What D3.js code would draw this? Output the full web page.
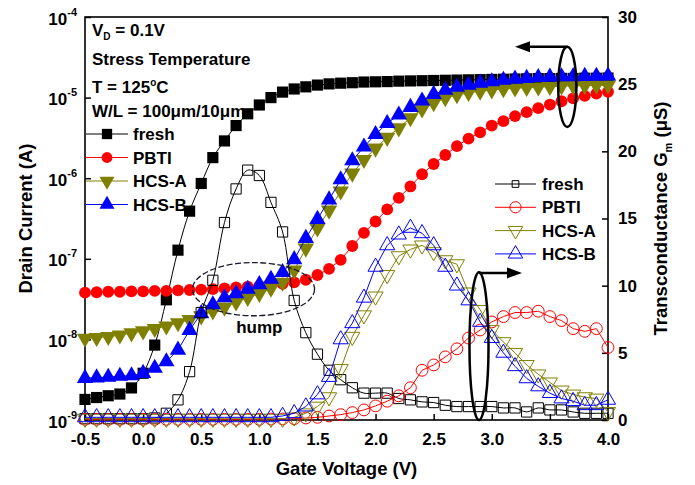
<!DOCTYPE html>
<html><head><meta charset="utf-8">
<script src="https://cdn.jsdelivr.net/npm/d3@7"></script>
<style>
body{margin:0;background:#fff}
svg text{font-family:"Liberation Sans",Arial,sans-serif;font-weight:bold;fill:#000}
</style>
</head><body>
<svg id="chart" width="695" height="485"></svg>
<script>
// ---------- data ----------
const gateVoltage = [-0.5,-0.4,-0.3,-0.2,-0.1,0.0,0.1,0.2,0.3,0.4,0.5,0.6,0.7,0.8,0.9,1.0,1.1,1.2,1.3,1.4,1.5,1.6,1.7,1.8,1.9,2.0,2.1,2.2,2.3,2.4,2.5,2.6,2.7,2.8,2.9,3.0,3.1,3.2,3.3,3.4,3.5,3.6,3.7,3.8,3.9,4.0];

// drain current (A)
const idFresh = [1.8e-9,1.9e-9,2.0e-9,2.1e-9,2.5e-9,3.8e-9,8.5e-9,3.1e-8,1.28e-7,3.9e-7,8.6e-7,1.8e-6,2.9e-6,4.5e-6,6.3e-6,8.1e-6,1.0e-5,1.17e-5,1.28e-5,1.36e-5,1.43e-5,1.48e-5,1.51e-5,1.53e-5,1.56e-5,1.57e-5,1.58e-5,1.6e-5,1.61e-5,1.62e-5,1.63e-5,1.64e-5,1.65e-5,1.66e-5,1.67e-5,1.68e-5,1.69e-5,1.70e-5,1.71e-5,1.72e-5,1.72e-5,1.73e-5,1.73e-5,1.74e-5,1.74e-5,1.75e-5];
const idPBTI = [3.8e-8,3.85e-8,3.9e-8,3.9e-8,3.95e-8,3.95e-8,4.0e-8,4.0e-8,4.05e-8,4.1e-8,4.15e-8,4.2e-8,4.3e-8,4.4e-8,4.5e-8,4.6e-8,4.75e-8,4.9e-8,5.1e-8,5.5e-8,6.3e-8,7.5e-8,9.7e-8,1.44e-7,2.1e-7,2.9e-7,4.1e-7,5.7e-7,7.9e-7,1.12e-6,1.5e-6,1.94e-6,2.5e-6,3.1e-6,3.7e-6,4.5e-6,5.1e-6,5.9e-6,6.6e-6,7.4e-6,8.2e-6,9.0e-6,9.8e-6,1.05e-5,1.12e-5,1.18e-5];
const idHCSA = [1.03e-8,1.05e-8,1.08e-8,1.13e-8,1.2e-8,1.27e-8,1.36e-8,1.46e-8,1.6e-8,1.75e-8,1.95e-8,2.25e-8,2.5e-8,2.9e-8,3.3e-8,3.7e-8,4.3e-8,5.1e-8,7.2e-8,1.35e-7,2.4e-7,4.0e-7,6.9e-7,1.15e-6,1.7e-6,2.35e-6,3.2e-6,4.2e-6,5.6e-6,7.2e-6,8.6e-6,9.9e-6,1.08e-5,1.15e-5,1.2e-5,1.24e-5,1.28e-5,1.31e-5,1.33e-5,1.35e-5,1.37e-5,1.39e-5,1.4e-5,1.41e-5,1.42e-5,1.43e-5];
const idHCSB = [3.3e-9,3.35e-9,3.4e-9,3.5e-9,3.55e-9,3.8e-9,4.4e-9,5.3e-9,7.4e-9,1.3e-8,2.1e-8,2.7e-8,3.3e-8,3.7e-8,4.2e-8,4.8e-8,5.6e-8,6.8e-8,9.8e-8,1.8e-7,3.1e-7,5.4e-7,9.6e-7,1.65e-6,2.45e-6,3.5e-6,4.8e-6,6.1e-6,7.6e-6,9.1e-6,1.1e-5,1.24e-5,1.35e-5,1.43e-5,1.52e-5,1.58e-5,1.65e-5,1.7e-5,1.74e-5,1.78e-5,1.8e-5,1.82e-5,1.83e-5,1.84e-5,1.85e-5,1.86e-5];

// transconductance (uS)
const gmFresh = [0.1,0.1,0.1,0.1,0.1,0.1,0.15,0.5,1.5,3.6,8.0,10.4,14.7,17.2,18.6,18.2,16.2,14.0,8.9,6.5,4.9,3.7,3.0,2.4,2.0,2.0,2.0,1.6,1.5,1.35,1.3,1.1,1.0,1.0,1.0,1.0,0.9,0.9,0.6,0.9,0.75,0.75,0.6,0.5,0.5,0.5];
const gmPBTI = [0.05,0.05,0.05,0.05,0.05,0.05,0.05,0.05,0.05,0.05,0.05,0.05,0.05,0.05,0.05,0.05,0.07,0.08,0.1,0.15,0.2,0.3,0.4,0.55,0.75,1.05,1.4,1.8,2.4,3.7,4.1,4.7,5.3,6.1,6.7,7.3,7.7,8.0,8.0,8.1,7.7,7.4,6.8,6.6,6.8,5.4];
const gmHCSA = [0.1,0.1,0.1,0.1,0.1,0.1,0.1,0.1,0.1,0.1,0.1,0.1,0.1,0.1,0.1,0.1,0.1,0.1,0.2,0.5,1.0,1.7,3.8,6.2,7.8,9.2,10.8,12.2,12.7,13.0,12.5,11.9,11.6,9.5,8.2,6.7,5.8,5.0,4.1,3.4,2.8,2.2,1.9,1.7,1.6,0.6];
const gmHCSB = [0.2,0.2,0.2,0.2,0.2,0.2,0.2,0.2,0.2,0.2,0.2,0.2,0.2,0.2,0.2,0.2,0.2,0.3,0.5,1.0,1.9,3.2,6.0,7.2,9.1,11.4,13.0,13.8,14.3,13.9,13.0,11.4,10.0,8.9,7.3,6.1,5.0,4.0,3.1,2.5,2.0,1.6,1.4,1.1,1.1,1.5];

const seriesNames = ["fresh","PBTI","HCS-A","HCS-B"];
const seriesColors = ["#000000","#ff0000","#808000","#0000ff"];
const xTickValues = [-0.5,0,0.5,1,1.5,2,2.5,3,3.5,4];
const xTickLabels = ["-0.5","0.0","0.5","1.0","1.5","2.0","2.5","3.0","3.5","4.0"];
const idTickExponents = [-9,-8,-7,-6,-5,-4];
const gmTickValues = [0,5,10,15,20,25,30];

// ---------- layout ----------
const W = 695, H = 485;
const m = {l:85, t:17, r:87, b:65};
const pw = W - m.l - m.r, ph = H - m.t - m.b;
const svg = d3.select("#chart");
const x = d3.scaleLinear().domain([-0.5,4.0]).range([m.l, m.l+pw]);
const yL = d3.scaleLog().domain([1e-9,1e-4]).range([m.t+ph, m.t]);
const yR = d3.scaleLinear().domain([0,30]).range([m.t+ph, m.t]);

// axes
const gx = svg.append("g").attr("transform",`translate(0,${m.t+ph})`)
  .call(d3.axisBottom(x).tickValues(xTickValues).tickSizeInner(-6).tickSizeOuter(0).tickPadding(13)
    .tickFormat((d,i)=>xTickLabels[i]));
const gl = svg.append("g").attr("transform",`translate(${m.l},0)`)
  .call(d3.axisLeft(yL).tickValues(idTickExponents.map(e=>Math.pow(10,e))).tickSizeInner(-6).tickSizeOuter(0).tickPadding(8)
    .tickFormat(()=>""));
const gr = svg.append("g").attr("transform",`translate(${m.l+pw},0)`)
  .call(d3.axisRight(yR).tickValues(gmTickValues).tickSizeInner(-6).tickSizeOuter(0).tickPadding(10));
[gx,gl,gr].forEach(g=>{
  g.select(".domain").remove();
  g.selectAll(".tick line").attr("stroke","#000").attr("stroke-width",1.5);
  g.selectAll("text").attr("font-size",17).attr("font-family",null);
});
gl.selectAll(".tick text").each(function(d,i){
  const t = d3.select(this).attr("dy","0.42em");
  t.append("tspan").text("10");
  t.append("tspan").attr("font-size",11).attr("dy",-9).text(String(idTickExponents[i]));
});

// frame
svg.append("rect").attr("x",m.l).attr("y",m.t).attr("width",pw).attr("height",ph)
  .attr("fill","none").attr("stroke","#000").attr("stroke-width",1.6);

// axis titles
svg.append("text").attr("transform",`translate(32,${m.t+ph/2}) rotate(-90)`)
  .attr("text-anchor","middle").attr("font-size",18.5).text("Drain Current (A)");
const rt = svg.append("text").attr("transform",`translate(667,${m.t+ph/2}) rotate(-90)`)
  .attr("text-anchor","middle").attr("font-size",18.5);
rt.append("tspan").text("Transconductance G");
rt.append("tspan").attr("font-size",11).attr("dy",5).text("m");
rt.append("tspan").attr("dy",-5).text(" (\u03bcS)");
svg.append("text").attr("x",m.l+pw/2).attr("y",475).attr("text-anchor","middle")
  .attr("font-size",18.5).text("Gate Voltage (V)");

// ---------- series ----------
const triUp = d3.symbolTriangle;
const filledSym = [d3.symbolSquare, d3.symbolCircle, triUp, triUp];
const filledSize = [125, 110, 115, 115];
const filledRot = [0,0,180,0];
const openSym = [d3.symbolSquare, d3.symbolCircle, triUp, triUp];
const openSize = [105, 110, 100, 100];
const idSeries = [idFresh, idPBTI, idHCSA, idHCSB];
const gmSeries = [gmFresh, gmPBTI, gmHCSA, gmHCSB];

const plot = svg.append("g");
idSeries.forEach((vals,k)=>{
  const pts = gateVoltage.map((v,i)=>({v, y: vals[i]}));
  const line = d3.line().x(d=>x(d.v)).y(d=>yL(d.y))
    .curve(k===0 ? d3.curveCatmullRom.alpha(0.5) : d3.curveLinear);
  plot.append("path").attr("d",line(pts)).attr("fill","none")
    .attr("stroke",seriesColors[k]).attr("stroke-width",1);
  plot.append("g").selectAll("path").data(pts).join("path")
    .attr("transform",d=>`translate(${x(d.v)},${yL(d.y)}) rotate(${filledRot[k]})`)
    .attr("d",d3.symbol().type(filledSym[k]).size(filledSize[k]))
    .attr("fill",seriesColors[k]);
});
gmSeries.forEach((vals,k)=>{
  const pts = gateVoltage.map((v,i)=>({v, y: vals[i]}));
  const line = d3.line().x(d=>x(d.v)).y(d=>yR(d.y))
    .curve(k===0 ? d3.curveCatmullRom.alpha(0.5) : d3.curveLinear);
  plot.append("path").attr("d",line(pts)).attr("fill","none")
    .attr("stroke",seriesColors[k]).attr("stroke-width",1);
  plot.append("g").selectAll("path").data(pts).join("path")
    .attr("transform",d=>`translate(${x(d.v)},${yR(d.y)}) rotate(${filledRot[k]})`)
    .attr("d",d3.symbol().type(openSym[k]).size(openSize[k]))
    .attr("fill","none").attr("stroke",seriesColors[k]).attr("stroke-width",1);
});

// ---------- annotations ----------
const info = svg.append("g");
const t1 = info.append("text").attr("x",92).attr("y",36).attr("font-size",17);
t1.append("tspan").text("V");
t1.append("tspan").attr("font-size",10).attr("dy",4).text("D");
t1.append("tspan").attr("dy",-4).text(" = 0.1V");
info.append("text").attr("x",92).attr("y",65).attr("font-size",17).text("Stress Temperature");
const t3 = info.append("text").attr("x",92).attr("y",93).attr("font-size",17);
t3.append("tspan").text("T = 125");
t3.append("tspan").attr("font-size",10).attr("dy",-7).text("o");
t3.append("tspan").attr("dy",7).text("C");
info.append("text").attr("x",92).attr("y",117).attr("font-size",17).text("W/L = 100\u03bcm/10\u03bcm");

// legend (filled, Id)
const leg1 = svg.append("g");
seriesNames.forEach((n,k)=>{
  const yy = 134 + k*23.5;
  leg1.append("line").attr("x1",86).attr("x2",128).attr("y1",yy).attr("y2",yy)
    .attr("stroke",seriesColors[k]).attr("stroke-width",1);
  leg1.append("path").attr("transform",`translate(107,${yy}) rotate(${filledRot[k]})`)
    .attr("d",d3.symbol().type(filledSym[k]).size(filledSize[k]*0.85)).attr("fill",seriesColors[k]);
  leg1.append("text").attr("x",133).attr("y",yy+6).attr("font-size",17).text(n);
});
// legend (open, Gm)
const leg2 = svg.append("g");
seriesNames.forEach((n,k)=>{
  const yy = 184 + k*23.3;
  leg2.append("line").attr("x1",495).attr("x2",536).attr("y1",yy).attr("y2",yy)
    .attr("stroke",seriesColors[k]).attr("stroke-width",1);
  leg2.append("path").attr("transform",`translate(515.5,${yy}) rotate(${filledRot[k]})`)
    .attr("d",d3.symbol().type(openSym[k]).size(k===0?45:openSize[k]*0.9))
    .attr("fill","none").attr("stroke",seriesColors[k]).attr("stroke-width",1);
  leg2.append("text").attr("x",542).attr("y",yy+6).attr("font-size",17).text(n);
});

// hump ellipse
const humpV = 0.95, humpI = 4.2e-8;
svg.append("ellipse").attr("cx",x(humpV)).attr("cy",yL(humpI))
  .attr("rx",x(humpV+0.525)-x(humpV)).attr("ry",yL(humpI/Math.pow(10,0.33))-yL(humpI))
  .attr("fill","none").attr("stroke","#1a1a2e").attr("stroke-width",1.3).attr("stroke-dasharray","6,2.5");
svg.append("text").attr("x",x(1.0)).attr("y",333).attr("text-anchor","middle").attr("font-size",17).text("hump");

function arrowHead(tipX, tipY, dir){
  const L = 15, hw = 5.5;
  svg.append("path").attr("d",`M${tipX},${tipY} L${tipX-dir*L},${tipY-hw} L${tipX-dir*L},${tipY+hw} Z`).attr("fill","#000");
}
// top-right ellipse + arrow pointing left (Id axis)
const e1V = 3.65, e1G = 24.8;
svg.append("ellipse").attr("cx",x(e1V)).attr("cy",yR(e1G))
  .attr("rx",x(e1V+0.078)-x(e1V)).attr("ry",yR(e1G)-yR(e1G+2.98))
  .attr("fill","none").attr("stroke","#000").attr("stroke-width",2.5);
svg.append("line").attr("x1",x(e1V)).attr("x2",x(3.26)).attr("y1",yR(27.78)).attr("y2",yR(27.78))
  .attr("stroke","#000").attr("stroke-width",2.5);
arrowHead(x(3.2), yR(27.78), -1);
// bottom ellipse + arrow pointing right (Gm axis)
const e2V = 2.89, e2G = 5.5;
svg.append("ellipse").attr("cx",x(e2V)).attr("cy",yR(e2G))
  .attr("rx",x(e2V+0.082)-x(e2V)).attr("ry",yR(e2G)-yR(e2G+5.5))
  .attr("fill","none").attr("stroke","#000").attr("stroke-width",2.5);
svg.append("line").attr("x1",x(e2V)).attr("x2",x(3.2)).attr("y1",yR(10.95)).attr("y2",yR(10.95))
  .attr("stroke","#000").attr("stroke-width",2.5);
arrowHead(x(3.26), yR(10.95), 1);
</script>
</body></html>
